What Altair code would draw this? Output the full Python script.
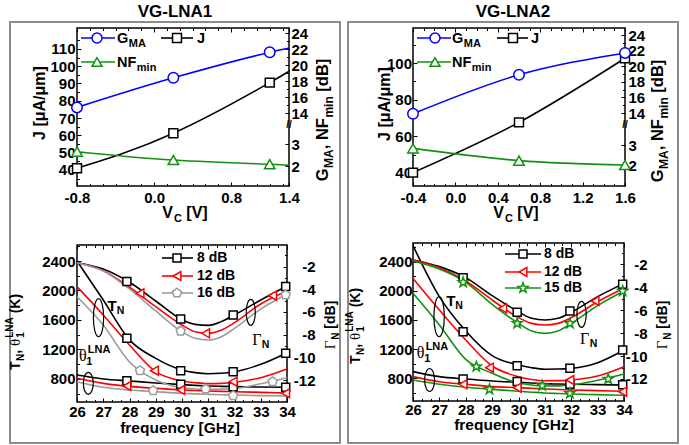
import altair as alt
import pandas as pd

# ---------------- data: top panels (bias sweep) ----------------
VC_LNA1 = [-0.8, 0.2, 1.2, 1.4]
GMA_LNA1 = [14.7, 18.4, 21.6, 22.0]
J_LNA1 = [41.0, 61.2, 90.5, 97.3]
NF_LNA1 = [2.65, 2.27, 2.08, 2.02]
VC_LNA1_MK = [-0.8, 0.2, 1.2]
GMA_LNA1_MK = [14.7, 18.4, 21.6]
J_LNA1_MK = [41.0, 61.2, 90.5]
NF_LNA1_MK = [2.65, 2.27, 2.08]

VC_LNA2 = [-0.4, 0.6, 1.6]
GMA_LNA2 = [13.9, 18.9, 21.7]
J_LNA2 = [40.2, 67.6, 102.6]
NF_LNA2 = [2.83, 2.22, 2.0]

# ---------------- data: bottom panels (frequency sweep) ----------------
FREQ = [26, 27, 28, 29, 30, 30.5, 31, 31.5, 32, 33, 34]

L1_GN8 = [-1.65, -2.21, -3.38, -5.03, -6.68, -7.09, -7.18, -6.85, -6.26, -4.94, -3.71]
L1_GN12 = [-1.65, -2.35, -3.82, -5.53, -7.15, -7.74, -7.88, -7.59, -6.94, -5.29, -4.15]
L1_GN16 = [-1.65, -2.38, -3.97, -5.91, -7.74, -8.32, -8.47, -8.18, -7.44, -5.74, -4.44]
L1_TN8 = [2400, 1871, 1330, 1080, 922, 886, 872, 878, 899, 999, 1157]
L1_TN12 = [2052, 1668, 1261, 899, 773, 750, 737, 740, 755, 818, 935]
L1_TN16 = [1916, 1532, 1030, 786, 680, 665, 660, 662, 668, 735, 818]
L1_TH8 = [854, 800, 773, 746, 723, 713, 705, 700, 696, 691, 687]
L1_TH12 = [809, 741, 700, 673, 651, 644, 637, 632, 628, 619, 610]
L1_TH16 = [764, 687, 651, 628, 606, 598, 592, 587, 583, 574, 569]

L1_MK8 = {"GN": ([27.9, 29.95, 31.95, 33.95], [-3.32, -6.62, -6.26, -3.76]),
          "TN": ([27.9, 29.95, 31.95, 33.95], [1351, 913, 899, 1148]),
          "TH": ([27.9, 29.95, 31.95, 33.95], [777, 728, 696, 687])}
L1_MK12 = {"GN": ([28.4, 30.9, 33.45], [-4.35, -7.88, -4.56]),
           "TN": ([28.95, 31.95], [913, 764]),
           "TH": ([27.9, 29.95, 33.95], [705, 651, 606])}
L1_MK16 = {"GN": ([29.95, 33.95], [-7.68, -4.5]),
           "TN": ([28.4, 30.9, 33.45], [913, 664, 764]),
           "TH": ([28.9, 31.95], [642, 574])}

L2_GN8 = [-1.62, -2.20, -3.16, -4.73, -6.13, -6.71, -6.85, -6.71, -6.19, -4.82, -3.66]
L2_GN12 = [-1.62, -2.29, -3.45, -5.11, -6.65, -7.15, -7.29, -7.15, -6.65, -5.26, -4.09]
L2_GN15 = [-1.71, -2.41, -3.57, -5.49, -7.15, -7.81, -8.02, -7.81, -7.15, -5.60, -4.33]
L2_TN8 = [2620, 1920, 1449, 1111, 983, 945, 925, 927, 937, 1015, 1189]
L2_TN12 = [2171, 1737, 1326, 969, 823, 785, 766, 768, 777, 832, 960]
L2_TN15 = [1966, 1532, 1060, 869, 736, 708, 695, 697, 709, 773, 860]
L2_TH8 = [892, 823, 791, 764, 745, 736, 727, 722, 718, 713, 709]
L2_TH12 = [823, 754, 718, 686, 672, 663, 654, 647, 640, 631, 622]
L2_TH15 = [777, 718, 677, 649, 622, 610, 599, 592, 585, 576, 567]

L2_MK8 = {"GN": ([27.9, 29.95, 31.95, 33.95], [-3.16, -6.19, -6.07, -3.74]),
          "TN": ([27.9, 29.95, 31.95, 33.95], [1440, 974, 937, 1189]),
          "TH": ([27.9, 29.95, 31.95, 33.95], [791, 755, 718, 712])}
L2_MK12 = {"GN": ([29.4, 32.9], [-5.84, -5.2]),
           "TN": ([28.9, 31.95], [946, 777]),
           "TH": ([27.9, 29.95, 33.95], [718, 672, 617])}
L2_MK15 = {"GN": ([27.9, 29.95, 31.95, 33.95], [-3.57, -7.15, -7.15, -4.33]),
           "TN": ([28.4, 30.9, 33.4], [960, 700, 791]),
           "TH": ([28.9, 31.95], [649, 594])}

# ---------------- style ----------------
WW, HH = 689, 445
FONT = "Liberation Sans"
SERIF = "Liberation Serif"
BLACK, RED, GRAY, GREEN, BLUE = "#000000", "#ff0000", "#9a9a9a", "#119111", "#0000ff"
PENTAGON = "M0,-1L0.951,-0.309L0.588,0.809L-0.588,0.809L-0.951,-0.309Z"
STAR = ("M0,-1L0.235,-0.324L0.951,-0.309L0.38,0.124L0.588,0.809L0,0.4"
        "L-0.588,0.809L-0.38,0.124L-0.951,-0.309L-0.235,-0.324Z")

BW = {' ': 278, '[': 333, ']': 333, '(': 333, ')': 333, ',': 278, '/': 278, '-': 333,
      '0': 556, '1': 556, '2': 556, '3': 556, '4': 556, '5': 556, '6': 556, '7': 556,
      '8': 556, '9': 556, 'A': 722, 'B': 722, 'C': 722, 'F': 611, 'G': 778, 'H': 722,
      'J': 556, 'K': 722, 'L': 611, 'M': 833, 'N': 722, 'T': 611, 'V': 667, 'a': 556,
      'c': 556, 'd': 611, 'e': 556, 'f': 333, 'i': 278, 'm': 889, 'n': 611, 'q': 611,
      'r': 389, 'u': 611, 'y': 556, 'z': 500, 'μ': 611}
SWD = {'θ': 520, 'Γ': 600}


def tw(s, size, serif=False):
    table = SWD if serif else BW
    return sum(table.get(ch, 600) for ch in s) * size / 1000.0


ONE = pd.DataFrame({"k": [0]})


def S(domain, rng):
    return alt.Scale(domain=list(domain), range=list(rng), nice=False, zero=False)


def txt(t, x, y, size, dx=0.0, dy=0.0, angle=0, align="left", baseline="alphabetic",
        serif=False, weight="", color="black"):
    kw = dict(text=t, fontSize=size, font=SERIF if serif else FONT,
              fontWeight=weight or ("normal" if serif else "bold"),
              align=align, baseline=baseline, dx=dx, dy=dy, color=color)
    if angle:
        kw["angle"] = angle
    return alt.Chart(ONE).mark_text(**kw).encode(x=alt.value(x), y=alt.value(y))


def rich(pieces, x, y, angle=0, center=True):
    """Text with sub/superscripts: pieces laid out along the text direction."""
    placed, pos, prev = [], 0.0, (0.0, 0.0)
    for p in pieces:
        w = tw(p["t"], p["s"], p.get("serif", False)) + p.get("gap", 0.0)
        if p.get("stack"):
            start = prev[0]
            pos = max(prev[0] + prev[1], start + w)
        else:
            start = pos
            pos = start + w
        placed.append((p, start))
        prev = (start, w)
    off = -pos / 2 if center else 0.0
    out = []
    for p, start in placed:
        t = p["t"]
        shown = t.lstrip(" ")
        lead = tw(" " * (len(t) - len(shown)), p["s"])  # SVG drops leading blanks
        out.append(txt(shown, x, y, p["s"], dx=start + off + lead, dy=p.get("dy", 0),
                       angle=angle, serif=p.get("serif", False)))
    return out


def axis_layer(ch, domain, rng, values, orient, tick, pos, labels=False, gap=0, expr="",
               align=""):
    """Axis drawn at frame edge `pos` (page px) with ticks pointing into the plot."""
    if orient == "bottom":
        off = pos - tick - HH
    elif orient == "right":
        off = pos - tick - WW
    else:
        off = -(pos + tick)
    ax = dict(values=values, orient=orient, tickSize=tick, offset=off, labels=labels,
              domain=False, grid=False, title=None, ticks=True, tickColor="black",
              tickWidth=1)
    if labels:
        ax.update(labelPadding=gap, labelFont=FONT, labelFontWeight="bold", labelFontSize=15,
                  labelColor="black", labelFlush=False, labelOverlap=False)
        if expr:
            ax["labelExpr"] = expr
        if align:
            ax["labelAlign"] = align
    df = pd.DataFrame({"v": [domain[0], domain[1]]})
    if ch == "x":
        enc = {"x": alt.X("v:Q", scale=S(domain, rng), axis=alt.Axis(**ax))}
    else:
        enc = {"y": alt.Y("v:Q", scale=S(domain, rng), axis=alt.Axis(**ax))}
    return alt.Chart(df).mark_point(opacity=0).encode(**enc)


def frame(xs, ys, xdom, ydom):
    df = pd.DataFrame({"a": [xdom[0]], "b": [xdom[1]], "c": [ydom[0]], "d": [ydom[1]]})
    return alt.Chart(df).mark_rect(fillOpacity=0, stroke="black", strokeWidth=1.5).encode(
        x=alt.X("a:Q", scale=xs, axis=None), x2="b:Q",
        y=alt.Y("c:Q", scale=ys, axis=None), y2="d:Q")


def marker(shape, size, color):
    return dict(shape=shape, size=size, filled=True, fill="white", stroke=color,
                strokeWidth=1.5, opacity=1)


def top_panel(c):
    x0, x1 = c["px"]
    y0, y1 = c["py"]
    H = y1 - y0
    xs = S(c["xdom"], [x0, x1])
    js = S(c["jdom"], [y1, y0])
    us = S([0, H], [y1, y0])     # right broken axis in pixel units above the bottom edge
    gA, gB, nA, nB = c["gA"], c["gB"], c["nA"], c["nB"]
    X = alt.X("x:Q", scale=xs, axis=None)
    line_df = pd.DataFrame({"x": c["vc"], "j": c["j"], "g": c["gma"], "n": c["nf"]})
    mk_df = pd.DataFrame({"x": c["vc_mk"], "j": c["j_mk"], "g": c["gma_mk"], "n": c["nf_mk"]})

    def mapped(df):
        return alt.Chart(df).transform_calculate(
            ug=f"{gA}*datum.g + ({gB})", un=f"{nA}*datum.n + ({nB})")

    uvals = [gA * g + gB for g in range(14, 25, 2)] + [nA * n + nB for n in (2, 3)]
    uminor = [gA * g + gB for g in range(15, 24, 2)]
    uexpr = (f"datum.value > 61 ? format((datum.value - ({gB}))/{gA}, '.0f') : "
             f"format((datum.value - ({nB}))/{nA}, '.0f')")

    L = []
    bx1, bx2 = c["box"]
    L.append(alt.Chart(ONE).mark_rect(fillOpacity=0, stroke="#8c8c8c", strokeWidth=2).encode(
        x=alt.value(bx1), x2=alt.value(bx2), y=alt.value(22), y2=alt.value(443)))
    L.append(frame(xs, js, c["xdom"], c["jdom"]))
    L += [
        axis_layer("x", c["xdom"], [x0, x1], c["xvals"], "bottom", 4, y1, True,
                   c["gap_bottom"], "replace(format(datum.value, '.1f'), '−', '-')"),
        axis_layer("x", c["xdom"], [x0, x1], c["xminor"], "bottom", 2.5, y1),
        axis_layer("x", c["xdom"], [x0, x1], c["xvals"], "top", 4, y0),
        axis_layer("x", c["xdom"], [x0, x1], c["xminor"], "top", 2.5, y0),
        axis_layer("y", c["jdom"], [y1, y0], c["jvals"], "left", 4, x0, True, c["gap_left"],
                   "format(datum.value, 'd')"),
        axis_layer("y", c["jdom"], [y1, y0], c["jminor"], "left", 2.5, x0),
        axis_layer("y", [0, H], [y1, y0], uvals, "right", 4, x1, True, c["gap_right"], uexpr),
        axis_layer("y", [0, H], [y1, y0], uminor, "right", 2.5, x1),
    ]
    # curves
    L.append(alt.Chart(line_df).mark_line(interpolate="natural", color=BLACK, strokeWidth=1.6)
             .encode(x=X, y=alt.Y("j:Q", scale=js, axis=None)))
    L.append(mapped(line_df).mark_line(interpolate="natural", color=GREEN, strokeWidth=1.6)
             .encode(x=X, y=alt.Y("un:Q", scale=us, axis=None)))
    L.append(mapped(line_df).mark_line(interpolate="natural", color=BLUE, strokeWidth=1.6)
             .encode(x=X, y=alt.Y("ug:Q", scale=us, axis=None)))
    # markers
    L.append(alt.Chart(mk_df).mark_point(**marker("square", 80, BLACK))
             .encode(x=X, y=alt.Y("j:Q", scale=js, axis=None)))
    L.append(mapped(mk_df).mark_point(**marker("triangle-up", 110, GREEN))
             .encode(x=X, y=alt.Y("un:Q", scale=us, axis=None)))
    L.append(mapped(mk_df).mark_point(**marker("circle", 110, BLUE))
             .encode(x=X, y=alt.Y("ug:Q", scale=us, axis=None)))
    # axis break mark on the right axis
    L.append(txt("//", x1, y1 - 61, 10, align="center", baseline="middle", weight="bold"))
    # legend
    lg = c["leg"]
    r1, r2 = y0 + 10, y0 + 34
    for (lx1, lx2, xm, y, col, shp, sz) in [
        (lg["gx1"], lg["gx2"], lg["gmk"], r1, BLUE, "circle", 100),
        (lg["jx1"], lg["jx2"], lg["jmk"], r1, BLACK, "square", 80),
        (lg["gx1"], lg["gx2"], lg["gmk"], r2, GREEN, "triangle-up", 100),
    ]:
        L.append(alt.Chart(ONE).mark_rule(color=col, strokeWidth=1.6).encode(
            x=alt.value(lx1), x2=alt.value(lx2), y=alt.value(y)))
        L.append(alt.Chart(ONE).mark_point(**marker(shp, sz, col)).encode(
            x=alt.value(xm), y=alt.value(y)))
    L += rich([{"t": "G", "s": 14.5, "gap": 0.5}, {"t": "MA", "s": 11, "dy": 4}], lg["gtx"],
              r1 + 5.2, center=False)
    L.append(txt("J", lg["jtx"], r1 + 5.2, 14.5))
    L += rich([{"t": "NF", "s": 14.5, "gap": 0.5}, {"t": "min", "s": 11, "dy": 4}], lg["gtx"],
              r2 + 5.2, center=False)
    # titles
    L.append(txt(c["title"], c["title_xy"][0], c["title_xy"][1], 17, align="center"))
    L.append(txt("J [μA/μm]", c["jt"][0], c["jt"][1], 16, angle=270, align="center"))
    L += rich([{"t": "G", "s": 16.5, "gap": 0.5}, {"t": "MA", "s": 12, "dy": 5},
               {"t": ", NF", "s": 16.5, "gap": 0.5},
               {"t": "min", "s": 12, "dy": 5}, {"t": " [dB]", "s": 16.5}],
              c["rt"][0], c["rt"][1], angle=270)
    L += rich([{"t": "V", "s": 16, "gap": 1}, {"t": "C", "s": 11, "dy": 4},
               {"t": " [V]", "s": 16}], c["xt"][0], c["xt"][1])
    return L


def bottom_panel(c):
    x0, x1 = c["px"]
    y0, y1 = c["py"]
    xs = S([26, 34], [x0, x1])
    ks = S(c["kdom"], [y1, y0])
    ds = S(c["ddom"], [y1, y0])
    X = alt.X("f:Q", scale=xs, axis=None)
    YK = alt.Y("v:Q", scale=ks, axis=None)
    YD = alt.Y("v:Q", scale=ds, axis=None)
    gains, cols = c["gains"], c["colors"]
    krows, drows = [], []
    for g in gains:
        gn, tn, th = c["lines"][g]
        for f, v in zip(FREQ, tn):
            krows.append({"f": f, "v": v, "gain": g, "curve": "TN"})
        for f, v in zip(FREQ, th):
            krows.append({"f": f, "v": v, "gain": g, "curve": "TH"})
        for f, v in zip(FREQ, gn):
            drows.append({"f": f, "v": v, "gain": g, "curve": "GN"})
    color = alt.Color("gain:N", scale=alt.Scale(domain=gains, range=cols), legend=None)

    fminor = [round(26 + i / 3, 4) for i in range(1, 24) if i % 3]
    L = [frame(xs, ks, [26, 34], c["kdom"])]
    L += [
        axis_layer("x", [26, 34], [x0, x1], list(range(26, 35)), "bottom", 4, y1, True,
                   c["gap_bottom"], "format(datum.value, 'd')"),
        axis_layer("x", [26, 34], [x0, x1], fminor, "bottom", 2.5, y1),
        axis_layer("x", [26, 34], [x0, x1], list(range(26, 35)), "top", 4, y0),
        axis_layer("x", [26, 34], [x0, x1], fminor, "top", 2.5, y0),
        axis_layer("y", c["kdom"], [y1, y0], [800, 1200, 1600, 2000, 2400], "left", 4, x0,
                   True, c["gap_left"], "format(datum.value, 'd')"),
        axis_layer("y", c["kdom"], [y1, y0], [600, 1000, 1400, 1800, 2200, 2600], "left",
                   2.5, x0),
        axis_layer("y", c["ddom"], [y1, y0], [-12, -10, -8, -6, -4, -2], "right", 4, x1,
                   True, c["gap_right"], "replace(format(datum.value, 'd'), '−', '-')",
                   "right"),
        axis_layer("y", c["ddom"], [y1, y0], [-13, -11, -9, -7, -5, -3, -1], "right", 2.5,
                   x1),
    ]
    L.append(alt.Chart(pd.DataFrame(krows)).mark_line(interpolate="monotone", strokeWidth=1.6)
             .encode(x=X, y=YK, color=color, detail="curve:N"))
    L.append(alt.Chart(pd.DataFrame(drows)).mark_line(interpolate="monotone", strokeWidth=1.6)
             .encode(x=X, y=YD, color=color, detail="curve:N"))
    for g, col, shp, sz in zip(gains, cols, c["shapes"], c["sizes"]):
        mk = c["marks"][g]
        kr = [{"f": f, "v": v} for key in ("TN", "TH") for f, v in zip(*mk[key])]
        dr = [{"f": f, "v": v} for f, v in zip(*mk["GN"])]
        pm = marker(shp, sz, col)
        L.append(alt.Chart(pd.DataFrame(kr)).mark_point(**pm).encode(x=X, y=YK))
        L.append(alt.Chart(pd.DataFrame(dr)).mark_point(**pm).encode(x=X, y=YD))
    # legend
    lg = c["leg"]
    for i, (g, col, shp, sz) in enumerate(zip(gains, cols, c["shapes"], c["sizes"])):
        y = lg["rows"][i]
        L.append(alt.Chart(ONE).mark_rule(color=col, strokeWidth=1.6).encode(
            x=alt.value(lg["x1"]), x2=alt.value(lg["x2"]), y=alt.value(y)))
        L.append(alt.Chart(ONE).mark_point(**marker(shp, sz, col)).encode(
            x=alt.value(lg["mk"]), y=alt.value(y)))
        L.append(txt(g, lg["tx"], y, 14, baseline="middle"))

    # annotations (ellipses and labels, in data coordinates)
    def ell(Y, f, v, h, rx):
        path = f"M0,-1A{rx},1 0 1,1 0,1A{rx},1 0 1,1 0,-1Z"
        return alt.Chart(pd.DataFrame({"f": [f], "v": [v]})).mark_point(
            shape=path, size=h * h, filled=False, stroke="black", strokeWidth=1.2,
            opacity=1).encode(x=X, y=Y)

    def dtext(t, Y, f, v, size, dx=0, dy=0, align="center", serif=False):
        return alt.Chart(pd.DataFrame({"f": [f], "v": [v]})).mark_text(
            text=t, fontSize=size, font=SERIF if serif else FONT,
            fontWeight="normal" if serif else "bold", align=align, baseline="middle",
            dx=dx, dy=dy, color="black").encode(x=X, y=Y)

    for kind, f, v, h, rx in c["ellipses"]:
        L.append(ell(YK if kind == "K" else YD, f, v, h, rx))
    tf, tv = c["tn_lab"]
    L.append(dtext("T", YK, tf, tv, 15))
    L.append(dtext("N", YK, tf, tv, 10.5, dx=4.5, dy=5, align="left"))
    hf, hv = c["th_lab"]
    L.append(dtext("θ", YK, hf, hv, 16, serif=True))
    L.append(dtext("1", YK, hf, hv, 11, dx=3.5, dy=6, align="left"))
    L.append(dtext("LNA", YK, hf, hv, 11, dx=5, dy=-6, align="left"))
    gf, gv = c["gn_lab"]
    L.append(dtext("Γ", YD, gf, gv, 16, serif=True))
    L.append(dtext("N", YD, gf, gv, 10.5, dx=5, dy=5, align="left"))
    # axis titles
    L += rich([{"t": "T", "s": 14, "gap": 0.5}, {"t": "N", "s": 10, "dy": 4},
               {"t": ", ", "s": 14},
               {"t": "θ", "s": 15, "serif": True, "gap": 0.5}, {"t": "1", "s": 10, "dy": 4},
               {"t": "LNA", "s": 10, "dy": -7, "stack": True}, {"t": " (K)", "s": 14}],
              c["lt"][0], c["lt"][1], angle=270)
    L += rich([{"t": "Γ", "s": 15, "serif": True, "gap": 0.5}, {"t": "N", "s": 10, "dy": 4},
               {"t": " [dB]", "s": 14}], c["rt"][0], c["rt"][1], angle=270)
    L.append(txt("frequency [GHz]", c["xt"][0], c["xt"][1], 15.5, align="center"))
    return L


layers = []
layers += top_panel(dict(
    vc=VC_LNA1, gma=GMA_LNA1, j=J_LNA1, nf=NF_LNA1,
    vc_mk=VC_LNA1_MK, gma_mk=GMA_LNA1_MK, j_mk=J_LNA1_MK, nf_mk=NF_LNA1_MK,
    px=(77, 289), py=(28, 186),
    xdom=[-0.8, 1.4], xvals=[-0.8, 0.0, 0.8, 1.4],
    xminor=[round(-0.8 + i * 0.8 / 6, 4) for i in range(1, 17) if i % 6],
    jdom=[30.7, 122.1], jvals=list(range(40, 111, 10)), jminor=list(range(35, 120, 10)),
    gA=8, gB=-39, nA=22, nB=-24,
    title="VG-LNA1", title_xy=(175, 16.7), jt=(44.8, 103), rt=(327.8, 120), xt=(185, 218),
    box=(10, 340),
    leg=dict(gx1=81, gx2=115, gmk=97, gtx=117, jx1=161, jx2=193, jmk=177, jtx=197),
    gap_left=2, gap_right=2, gap_bottom=4))

layers += top_panel(dict(
    vc=VC_LNA2, gma=GMA_LNA2, j=J_LNA2, nf=NF_LNA2,
    vc_mk=VC_LNA2, gma_mk=GMA_LNA2, j_mk=J_LNA2, nf_mk=NF_LNA2,
    px=(413, 625), py=(28, 186),
    xdom=[-0.4, 1.6], xvals=[-0.4, 0.0, 0.4, 0.8, 1.2, 1.6],
    xminor=[round(-0.4 + i * 0.1, 4) for i in range(1, 20) if i % 4],
    jdom=[32.9, 119.1], jvals=[40, 60, 80, 100], jminor=[50, 70, 90, 110],
    gA=7.8, gB=-36.2, nA=20, nB=-19,
    title="VG-LNA2", title_xy=(513, 16.7), jt=(389.8, 104), rt=(662.8, 121), xt=(516, 218),
    box=(348, 678),
    leg=dict(gx1=417, gx2=451, gmk=435, gtx=452, jx1=497, jx2=528, jmk=513, jtx=531),
    gap_left=1.5, gap_right=3, gap_bottom=4))

layers += bottom_panel(dict(
    gains=["8 dB", "12 dB", "16 dB"], colors=[BLACK, RED, GRAY],
    shapes=["square", "triangle-left", PENTAGON], sizes=[64, 80, 90],
    lines={"8 dB": (L1_GN8, L1_TN8, L1_TH8), "12 dB": (L1_GN12, L1_TN12, L1_TH12),
           "16 dB": (L1_GN16, L1_TN16, L1_TH16)},
    marks={"8 dB": L1_MK8, "12 dB": L1_MK12, "16 dB": L1_MK16},
    px=(77, 287), py=(245, 402),
    kdom=[488, 2617], ddom=[-13.94, -0.09],
    gap_left=2, gap_right=28, gap_bottom=2,
    leg=dict(x1=162, x2=193, mk=177, tx=197, rows=[258, 276, 293]),
    ellipses=[("K", 26.82, 1632, 38, 0.27), ("K", 26.43, 741, 22, 0.45),
              ("D", 32.62, -6.03, 26, 0.35)],
    tn_lab=(27.34, 1794), th_lab=(26.22, 1108), gn_lab=(32.85, -8.47),
    lt=(20, 332), rt=(335, 325), xt=(180, 433)))

layers += bottom_panel(dict(
    gains=["8 dB", "12 dB", "15 dB"], colors=[BLACK, RED, GREEN],
    shapes=["square", "triangle-left", STAR], sizes=[64, 80, 110],
    lines={"8 dB": (L2_GN8, L2_TN8, L2_TH8), "12 dB": (L2_GN12, L2_TN12, L2_TH12),
           "15 dB": (L2_GN15, L2_TN15, L2_TH15)},
    marks={"8 dB": L2_MK8, "12 dB": L2_MK12, "15 dB": L2_MK15},
    px=(413, 624), py=(243, 401),
    kdom=[489, 2656], ddom=[-13.92, -0.14],
    gap_left=1, gap_right=23, gap_bottom=1,
    leg=dict(x1=505, x2=541, mk=523, tx=544, rows=[254, 272, 288]),
    ellipses=[("K", 26.99, 1646, 40, 0.26), ("K", 26.63, 777, 23, 0.43),
              ("D", 32.39, -6.36, 26, 0.36)],
    tn_lab=(27.43, 1861), th_lab=(26.29, 1143), gn_lab=(32.51, -8.54),
    lt=(360, 326), rt=(667, 325), xt=(514, 430)))

chart = (alt.layer(*layers)
         .resolve_scale(x="independent", y="independent", color="independent")
         .resolve_axis(x="independent", y="independent")
         .properties(width=WW, height=HH, padding=0,
                     autosize=alt.AutoSizeParams(type="none"))
         .configure_view(stroke="transparent"))

chart.save("out.html", embed_options={"renderer": "svg", "actions": False})
